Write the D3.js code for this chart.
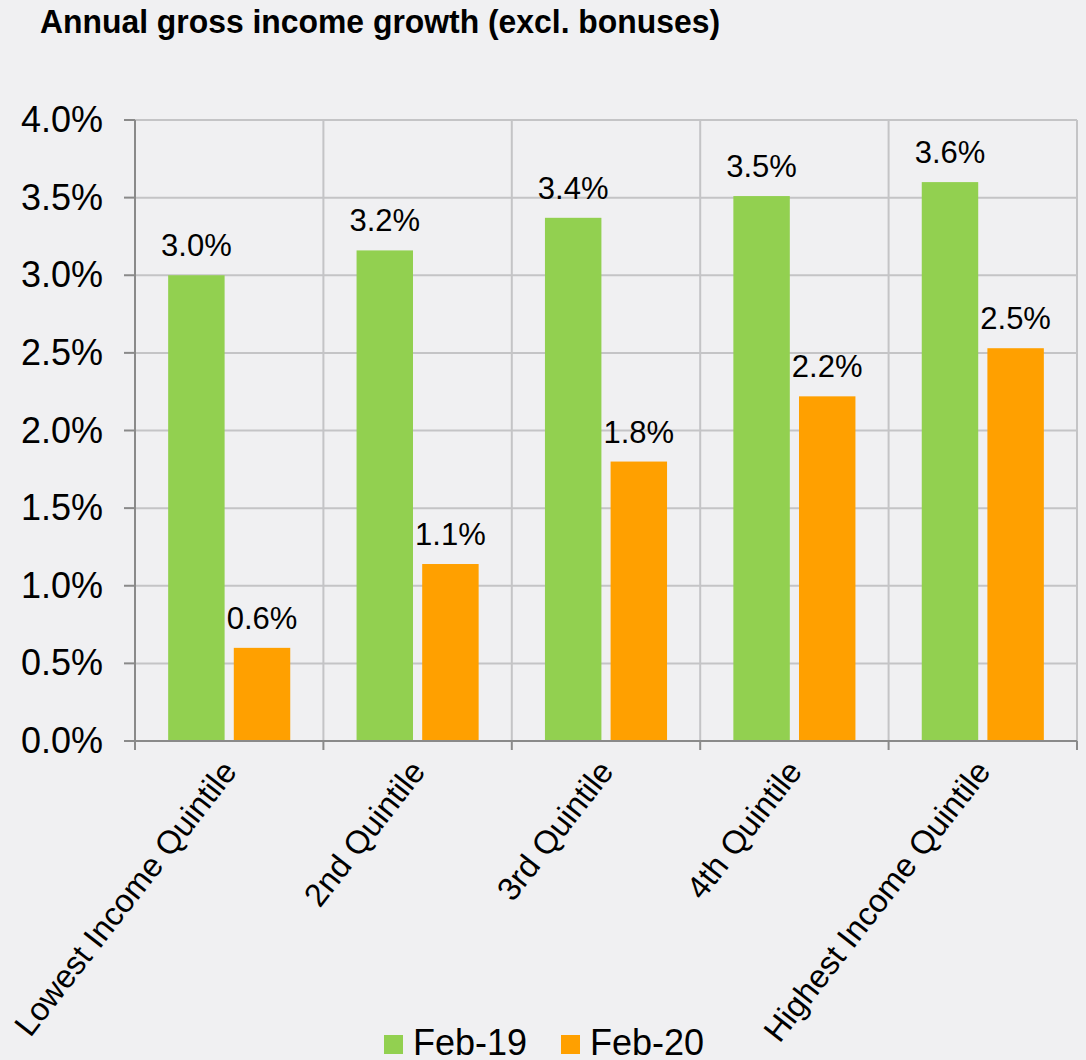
<!DOCTYPE html>
<html>
<head>
<meta charset="utf-8">
<script src="https://cdn.jsdelivr.net/npm/d3@7"></script>
<style>
  html, body { margin: 0; padding: 0; background: #f0f0f2; }
  svg { display: block; font-family: Arial, 'Liberation Sans', sans-serif; }
</style>
</head>
<body>
<div id="chart"></div>
<script>
const categories = ['Lowest Income Quintile', '2nd Quintile', '3rd Quintile', '4th Quintile', 'Highest Income Quintile'];
const seriesNames = ['Feb-19', 'Feb-20'];
const feb19 = [3.00, 3.16, 3.37, 3.51, 3.60];
const feb20 = [0.60, 1.14, 1.80, 2.22, 2.53];
const yTicks = [0, 0.5, 1.0, 1.5, 2.0, 2.5, 3.0, 3.5, 4.0];
const colors = ['#92d050', '#ffa000'];

const width = 1086, height = 1060;
const margin = { top: 120, right: 9, bottom: 319, left: 135 };

const rows = categories.map((c, i) => ({ cat: c, values: [feb19[i], feb20[i]] }));

const svg = d3.select('#chart').append('svg')
  .attr('width', width)
  .attr('height', height);

svg.append('rect').attr('width', width).attr('height', height).attr('fill', '#f0f0f2');

// title
svg.append('text')
  .attr('x', 40)
  .attr('y', 33)
  .attr('font-size', 33)
  .attr('font-weight', 'bold')
  .attr('fill', '#000')
  .attr('textLength', 680)
  .attr('lengthAdjust', 'spacingAndGlyphs')
  .text('Annual gross income growth (excl. bonuses)');

const x0 = margin.left, x1 = width - margin.right;
const yBottom = height - margin.bottom;

const y = d3.scaleLinear().domain([0, 4]).range([yBottom, margin.top]);

// category slots (for gridlines) and padded bands (for bars)
const xSlot = d3.scaleBand().domain(categories).range([x0, x1]);
const xCat = d3.scaleBand().domain(categories).range([x0, x1])
  .paddingInner(0.352).paddingOuter(0.176);
const xSer = d3.scaleBand().domain(seriesNames).range([0, xCat.bandwidth()]).paddingInner(0.14);

const g = svg.append('g');

// horizontal gridlines
g.selectAll('.hgrid')
  .data(yTicks.filter(t => t > 0))
  .enter().append('line')
  .attr('class', 'hgrid')
  .attr('x1', x0).attr('x2', x1)
  .attr('y1', d => y(d)).attr('y2', d => y(d))
  .attr('stroke', '#c4c4c6')
  .attr('stroke-width', 2);

// vertical gridlines at category boundaries
const bounds = categories.map(c => xSlot(c)).concat([x1]);
g.selectAll('.vgrid')
  .data(bounds.slice(1))
  .enter().append('line')
  .attr('class', 'vgrid')
  .attr('x1', d => d).attr('x2', d => d)
  .attr('y1', margin.top).attr('y2', yBottom)
  .attr('stroke', '#c4c4c6')
  .attr('stroke-width', 2);

// bars
const grp = g.selectAll('.grp')
  .data(rows)
  .enter().append('g')
  .attr('class', 'grp')
  .attr('transform', d => 'translate(' + xCat(d.cat) + ',0)');

grp.selectAll('rect')
  .data(d => d.values.map((v, i) => ({ name: seriesNames[i], v: v, i: i })))
  .enter().append('rect')
  .attr('x', d => xSer(d.name))
  .attr('y', d => y(d.v))
  .attr('width', xSer.bandwidth())
  .attr('height', d => yBottom - y(d.v))
  .attr('fill', d => colors[d.i]);

// value labels
grp.selectAll('.val')
  .data(d => d.values.map((v, i) => ({ name: seriesNames[i], v: v })))
  .enter().append('text')
  .attr('class', 'val')
  .attr('x', d => xSer(d.name) + xSer.bandwidth() / 2)
  .attr('y', d => y(d.v) - 19)
  .attr('text-anchor', 'middle')
  .attr('font-size', 31)
  .attr('fill', '#000')
  .text(d => d3.format('.1f')(d.v) + '%');

// y axis line + ticks
g.append('line')
  .attr('x1', x0).attr('x2', x0)
  .attr('y1', margin.top).attr('y2', yBottom + 9)
  .attr('stroke', '#8a8a8a').attr('stroke-width', 2);

g.selectAll('.ytick')
  .data(yTicks)
  .enter().append('line')
  .attr('class', 'ytick')
  .attr('x1', x0 - 11).attr('x2', x0)
  .attr('y1', d => y(d)).attr('y2', d => y(d))
  .attr('stroke', '#8a8a8a').attr('stroke-width', 2);

g.selectAll('.ylab')
  .data(yTicks)
  .enter().append('text')
  .attr('class', 'ylab')
  .attr('x', 103)
  .attr('y', d => y(d) + 12)
  .attr('text-anchor', 'end')
  .attr('font-size', 36)
  .attr('fill', '#000')
  .text(d => d3.format('.1f')(d) + '%');

// x axis line + ticks
g.append('line')
  .attr('x1', x0 - 11).attr('x2', x1)
  .attr('y1', yBottom).attr('y2', yBottom)
  .attr('stroke', '#8a8a8a').attr('stroke-width', 2);

g.selectAll('.xtick')
  .data(bounds)
  .enter().append('line')
  .attr('class', 'xtick')
  .attr('x1', d => d).attr('x2', d => d)
  .attr('y1', yBottom).attr('y2', yBottom + 9)
  .attr('stroke', '#8a8a8a').attr('stroke-width', 2);

// rotated category labels
g.selectAll('.xlab')
  .data(categories)
  .enter().append('text')
  .attr('class', 'xlab')
  .attr('transform', d => 'translate(' + (xSlot(d) + xSlot.bandwidth() / 2 + 9) + ',' + (yBottom + 31) + ') rotate(-52)')
  .attr('text-anchor', 'end')
  .attr('font-size', 32.5)
  .attr('fill', '#000')
  .text(d => d);

// legend
const legend = svg.append('g');
const legendX = [384, 561];
seriesNames.forEach((name, i) => {
  legend.append('rect')
    .attr('x', legendX[i]).attr('y', 1035)
    .attr('width', 19).attr('height', 19)
    .attr('fill', colors[i]);
  legend.append('text')
    .attr('x', legendX[i] + 29).attr('y', 1055)
    .attr('font-size', 36)
    .attr('fill', '#000')
    .text(name);
});
</script>
</body>
</html>
